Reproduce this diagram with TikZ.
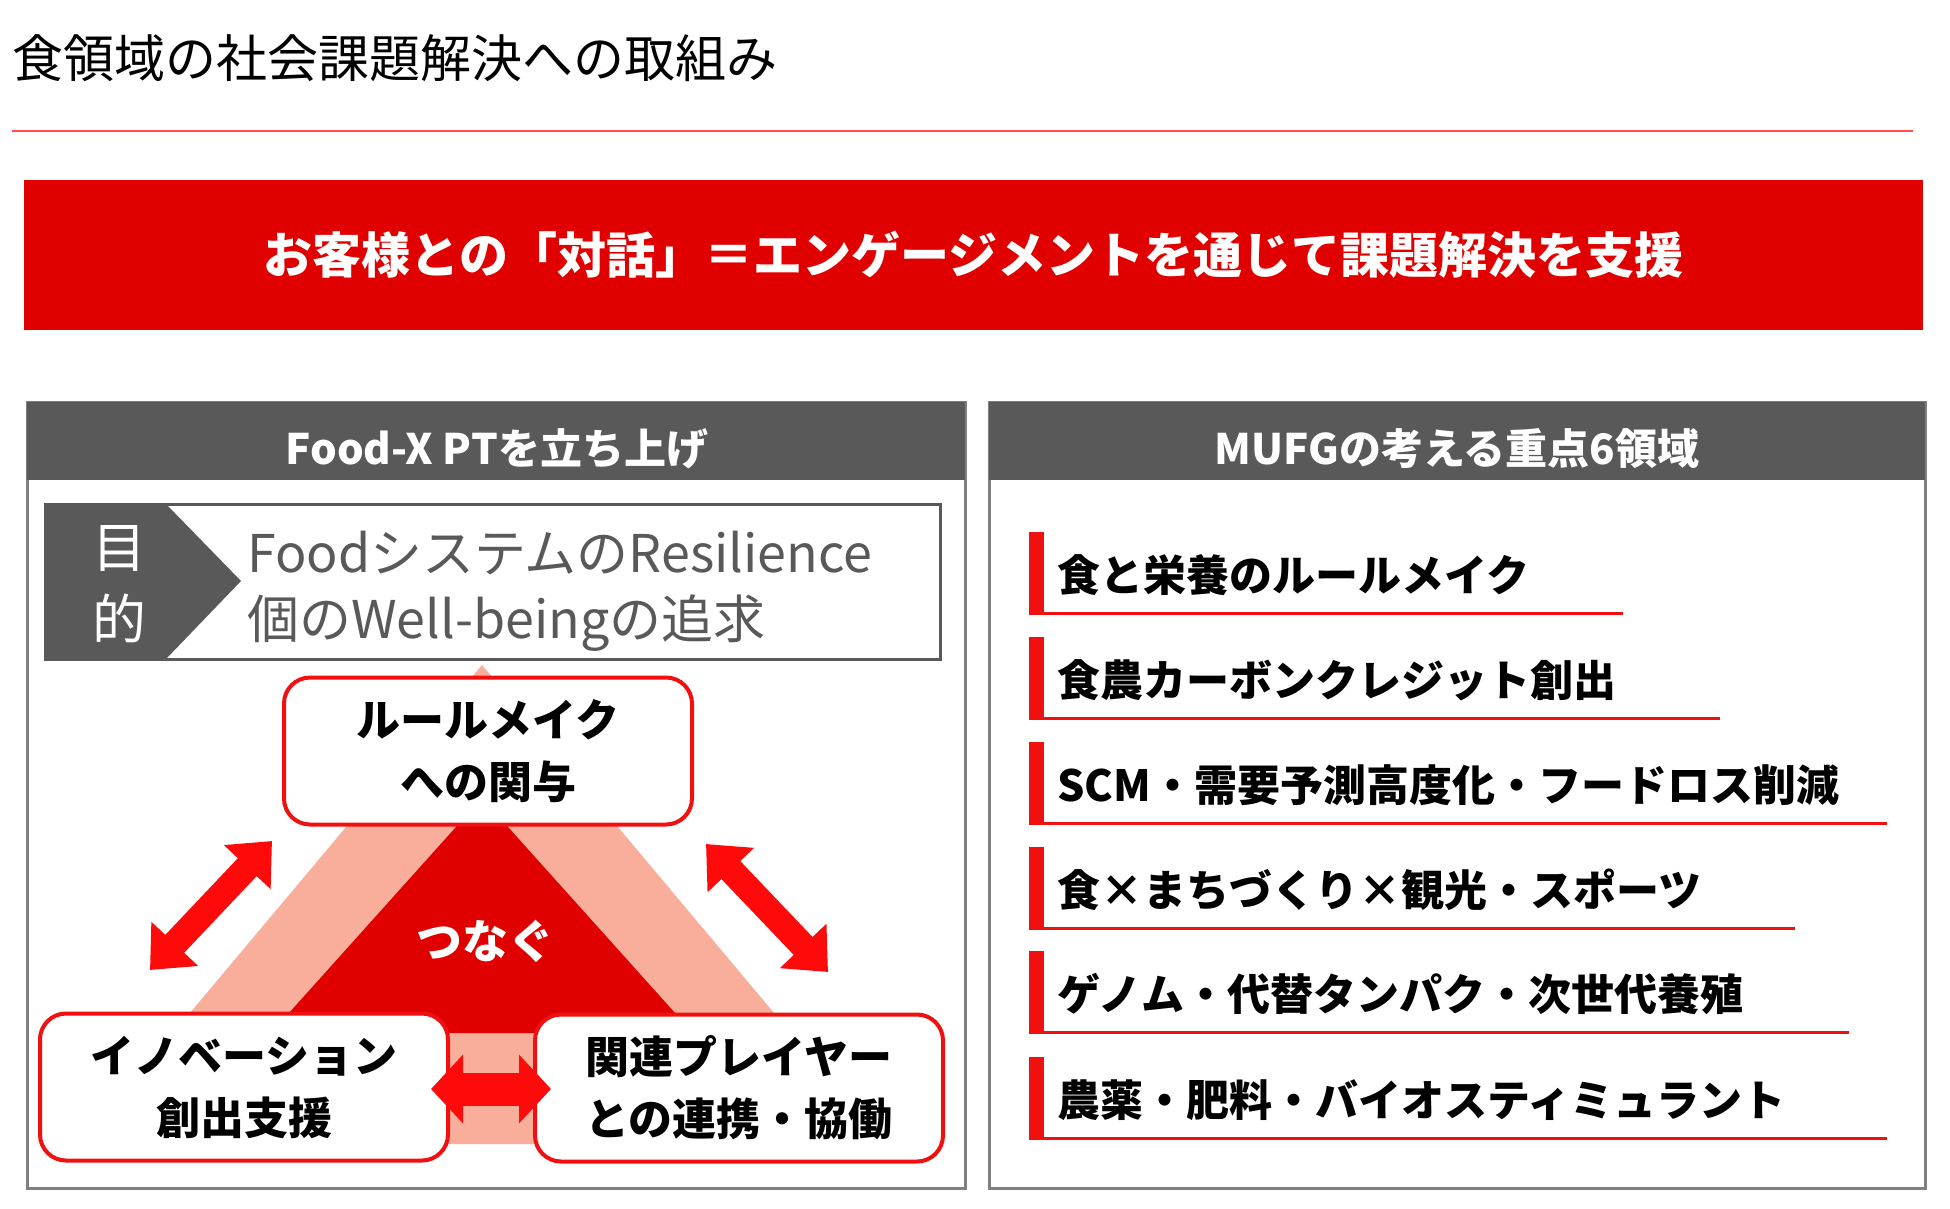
\documentclass[tikz,border=0pt]{standalone}
\usepackage{fontspec}
\setmainfont{Noto Sans CJK JP}
\usetikzlibrary{arrows.meta,positioning}
\definecolor{mred}{HTML}{E00000}
\definecolor{boxred}{HTML}{F01010}
\definecolor{arrred}{HTML}{FF0A0A}
\definecolor{pale}{HTML}{F9AE9C}
\definecolor{hdgray}{HTML}{595959}
\definecolor{rimgray}{HTML}{7F7F7F}

\begin{document}
\begin{tikzpicture}[
  x=1pt, y=-1pt,
  % Global text styling
  every node/.style={inner sep=0pt, align=center},
  % Panels and headers
  panel/.style={draw=rimgray, line width=3pt, fill=white},
  header/.style={text=white, font=\bfseries\fontsize{42}{50}\selectfont},
  % Triangle boxes
  topic/.style={draw=boxred, line width=4pt, fill=white, rounded corners=26pt, minimum width=408pt, minimum height=147pt, font=\bfseries\fontsize{44}{62}\selectfont},
  % Right hand list
  area/.style={anchor=west, font=\bfseries\fontsize{43}{50}\selectfont},
  % Fat double arrows
  linkarrow/.style={draw=arrred, line width=26pt, {Triangle[width=62pt,length=36pt]}-{Triangle[width=62pt,length=36pt]}},
  sidearrow/.style={draw=arrred, line width=33pt, {Triangle[width=67pt,length=32pt]}-{Triangle[width=67pt,length=32pt]}}
]
\useasboundingbox (0,0) rectangle (1950,1208);

% Title and banner
\node[anchor=west, font=\fontsize{51}{60}\selectfont] (title) at (12,58) {食領域の社会課題解決への取組み};
\draw[red!70, line width=2pt] (12,131) -- (1913,131);
\node[fill=mred, minimum width=1899pt, minimum height=150pt, text=white, font=\bfseries\fontsize{49}{56}\selectfont] (banner) at (973.5,255) {お客様との「対話」＝エンゲージメントを通じて課題解決を支援};

% Left panel
\draw[panel] (27,402) rectangle (965,1188);
\fill[hdgray] (27,402) rectangle (965,480);
\node[header] (foodhead) at (497,449) {Food-X PTを立ち上げ};

% Purpose
\draw[hdgray, line width=3pt] (45,504) rectangle (940,659);
\fill[hdgray] (45,504) -- (166,504) -- (241,581) -- (166,659) -- (45,659) -- cycle;
\node[text=white, font=\fontsize{54}{72}\selectfont] (aimtag) at (119,584) {目\\的};
\node[anchor=west, text=hdgray, font=\fontsize{52}{66}\selectfont, align=left] (aimtext) at (247,591) {FoodシステムのResilience\\個のWell-beingの追求};

% Triangle
\fill[pale] (482,665) -- (80,1144) -- (884,1144) -- cycle;
\fill[mred] (482,798) -- (271,1033) -- (693,1033) -- cycle;
\node[text=white, font=\bfseries\fontsize{46}{54}\selectfont] (tsunagu) at (485,941) {つなぐ};

\node[topic] (rulemake) at (488,751) {ルールメイク\\への関与};
\node[topic] (innov) at (244,1087) {イノベーション\\創出支援};
\node[topic] (partner) at (739,1088) {関連プレイヤー\\との連携・協働};

% Arrows between the boxes
\coordinate (la) at (150,970);
\coordinate (lb) at (272,841);
\coordinate (ra) at (706,844);
\coordinate (rb) at (828,972);
\draw[linkarrow] (la) -- (lb);
\draw[linkarrow] (ra) -- (rb);
\draw[sidearrow] (innov.east |- 0,1089) ++(-19,0) -- ([xshift=18pt]partner.west |- 0,1089);

% Right panel
\draw[panel] (989,402) rectangle (1925,1188);
\fill[hdgray] (989,402) rectangle (1925,480);
\node[header] (mufghead) at (1457,449) {MUFGの考える重点6領域};

\foreach \i/\yy/\xe/\txt in {
  1/532/1623/食と栄養のルールメイク,
  2/637/1720/食農カーボンクレジット創出,
  3/742/1887/SCM・需要予測高度化・フードロス削減,
  4/847/1795/食×まちづくり×観光・スポーツ,
  5/951/1849/ゲノム・代替タンパク・次世代養殖,
  6/1057/1887/農薬・肥料・バイオスティミュラント}{
  \fill[boxred] (1029,\yy) rectangle (1044,\yy+81);
  \draw[boxred, line width=3pt] (1029,\yy+81) -- (\xe,\yy+81);
  \node[area] (area\i) at (1057,\yy+43) {\txt};
}

\end{tikzpicture}
\end{document}
